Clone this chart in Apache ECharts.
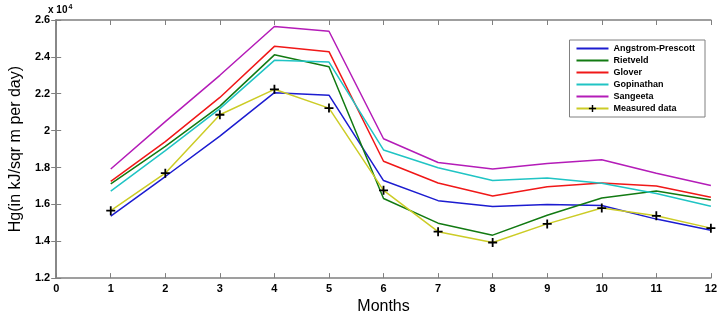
<!DOCTYPE html>
<html>
<head>
<meta charset="utf-8">
<script src="https://cdn.jsdelivr.net/npm/echarts@6/dist/echarts.min.js"></script>
<style>
  html, body { margin: 0; padding: 0; background: #fff; }
  #chart { width: 720px; height: 320px; }
</style>
</head>
<body>
<div id="chart"></div>
<script>
var months = [1, 2, 3, 4, 5, 6, 7, 8, 9, 10, 11, 12];
var angstrom = [15360, 17510, 19700, 22060, 21920, 17290, 16200, 15890, 15990, 15940, 15200, 14590];
var rietveld = [17110, 19140, 21330, 24110, 23460, 16320, 14980, 14330, 15410, 16340, 16720, 16240];
var glover = [17250, 19400, 21800, 24570, 24280, 18340, 17160, 16450, 16960, 17160, 16990, 16380];
var gopinathan = [16720, 18910, 21190, 23810, 23720, 18950, 17990, 17290, 17430, 17140, 16590, 15900];
var sangeeta = [17920, 20490, 23000, 25650, 25390, 19560, 18270, 17920, 18220, 18420, 17690, 17020];
var measured = [15660, 17690, 20860, 22240, 21220, 16760, 14520, 13930, 14940, 15800, 15380, 14710];
var yTicks = [12000, 26000, 2000];

var plus = 'path://M4,0L6,0L6,4L10,4L10,6L6,6L6,10L4,10L4,6L0,6L0,4L4,4Z';

function pairs(vals) {
    return months.map(function (m, i) { return [m, vals[i]]; });
}

// 只画线, 图例里的圆点设成透明
function lineSeries(name, vals, color) {
    return {
        name: name,
        type: 'line',
        data: pairs(vals),
        symbol: 'none',
        itemStyle: { color: 'rgba(0,0,0,0)' },
        lineStyle: { color: color, width: 1.5 },
        animation: false
    };
}

var myChart = echarts.init(document.getElementById('chart'));
var tickFont = { fontFamily: 'Liberation Sans', fontWeight: 'bold', fontSize: 11, color: '#000' };
var axisLine = { show: true, lineStyle: { color: '#808080', width: 1.5 } };
var axisTick = { show: true, inside: true, length: 5, lineStyle: { color: '#808080', width: 1 } };

var option = {
    backgroundColor: '#fff',
    animation: false,
    grid: { left: 48, right: 9, top: 20, bottom: 33 },
    legend: {
        orient: 'vertical',
        right: 15,
        top: 40,
        padding: [4, 10, 4, 6],
        itemGap: 3,
        itemWidth: 32,
        itemHeight: 9,
        backgroundColor: '#fff',
        borderColor: '#808080',
        borderWidth: 1,
        textStyle: { fontFamily: 'Liberation Sans', fontWeight: 'bold', fontSize: 9, color: '#000' },
        data: ['Angstrom-Prescott', 'Rietveld', 'Glover', 'Gopinathan', 'Sangeeta', 'Measured data']
    },
    graphic: [
        {
            type: 'text',
            left: 48,
            top: 4,
            style: {
                text: '{a|x 10}{b|4}',
                rich: {
                    a: { fontFamily: 'Liberation Sans', fontWeight: 'bold', fontSize: 10, fill: '#000' },
                    b: { fontFamily: 'Liberation Sans', fontWeight: 'bold', fontSize: 7, fill: '#000', verticalAlign: 'top', padding: [0, 0, 6, 1] }
                }
            }
        }
    ],
    xAxis: [
        {
            type: 'value',
            min: 0,
            max: 12,
            interval: 1,
            name: 'Months',
            nameLocation: 'middle',
            nameGap: 20,
            nameTextStyle: { fontFamily: 'Liberation Sans', fontSize: 16, color: '#000' },
            axisLine: axisLine,
            axisTick: axisTick,
            axisLabel: Object.assign({ margin: 5 }, tickFont),
            splitLine: { show: false }
        },
        {
            type: 'value',
            position: 'top',
            min: 0,
            max: 12,
            interval: 1,
            axisLine: axisLine,
            axisTick: axisTick,
            axisLabel: { show: false },
            splitLine: { show: false }
        }
    ],
    yAxis: [
        {
            type: 'value',
            min: yTicks[0],
            max: yTicks[1],
            interval: yTicks[2],
            name: 'Hg(in kJ/sqr m per day)',
            nameLocation: 'middle',
            nameGap: 28,
            nameTextStyle: { fontFamily: 'Liberation Sans', fontSize: 16, color: '#000' },
            axisLine: axisLine,
            axisTick: axisTick,
            axisLabel: Object.assign({ margin: 6, formatter: function (v) { return String(v / 10000); } }, tickFont),
            splitLine: { show: false }
        },
        {
            type: 'value',
            position: 'right',
            min: yTicks[0],
            max: yTicks[1],
            interval: yTicks[2],
            axisLine: axisLine,
            axisTick: axisTick,
            axisLabel: { show: false },
            splitLine: { show: false }
        }
    ],
    series: [
        lineSeries('Angstrom-Prescott', angstrom, '#1c1cd0'),
        lineSeries('Rietveld', rietveld, '#127a12'),
        lineSeries('Glover', glover, '#f01818'),
        lineSeries('Gopinathan', gopinathan, '#20c4c4'),
        lineSeries('Sangeeta', sangeeta, '#b41cb8'),
        {
            name: 'Measured data',
            type: 'line',
            data: pairs(measured),
            symbol: plus,
            symbolSize: 9,
            itemStyle: { color: '#000' },
            lineStyle: { color: '#cccc26', width: 1.5 },
            z: 3,
            animation: false
        }
    ]
};

myChart.setOption(option);
</script>
</body>
</html>
